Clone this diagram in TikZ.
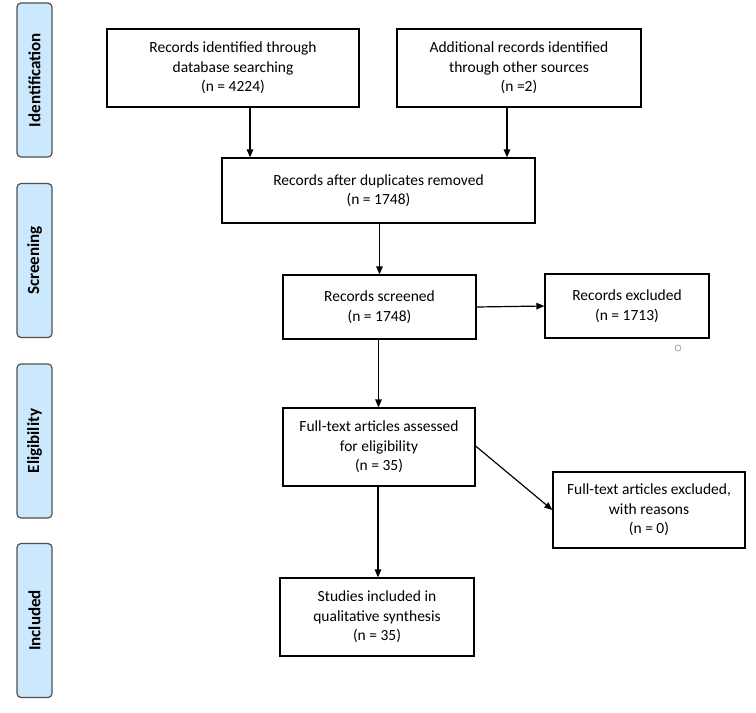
\documentclass[tikz,border=0pt]{standalone}
\usepackage{fontspec}
\setmainfont{Carlito}
\usepackage{tikz}
\usetikzlibrary{arrows.meta,positioning}

\definecolor{phaseblue}{RGB}{204,232,252}
\definecolor{phaseline}{RGB}{80,80,80}

\tikzset{
  box/.style={draw=black,line width=1.2pt,align=center,inner sep=2pt,
    font=\fontsize{15.5}{19.5}\selectfont},
  phase/.style={draw=phaseline,fill=phaseblue,line width=1.2pt,rounded corners=4pt,
    rotate=90,minimum width=154pt,minimum height=35pt,inner sep=0pt,
    font=\fontsize{17}{19}\selectfont\bfseries},
  flow/.style={line width=1.2pt,-{Triangle[length=8pt,width=6.5pt]}}
}

\begin{document}
\begin{tikzpicture}[x=1pt,y=-1pt]
  \useasboundingbox (0,0) rectangle (756,713);
    % phases
    \node[phase] (ident) at (34.5,80) {Identification};
    \node[phase] (screen) at (34.5,260.5) {Screening};
    \node[phase] (elig) at (34.5,441) {Eligibility};
    \node[phase] (incl) at (34.5,620.5) {Included};
    % boxes
    \node[box,minimum width=252pt,minimum height=78pt] (recdb) at (233,68)
      {Records identified through\\database searching\\(n = 4224)};
    \node[box,minimum width=244pt,minimum height=78pt] (recother) at (519,68)
      {Additional records identified\\through other sources\\(n =2)};
    \node[box,minimum width=313pt,minimum height=65pt] (dedup) at (378.5,190.5)
      {Records after duplicates removed\\(n = 1748)};
    \node[box,minimum width=193pt,minimum height=64pt] (screened) at (379.5,307)
      {Records screened\\(n = 1748)};
    \node[box,minimum width=164pt,minimum height=64pt] (excl) at (627,306)
      {Records excluded\\(n = 1713)};
    \node[box,minimum width=192pt,minimum height=78pt] (fulltext) at (379,447)
      {Full-text articles assessed\\for eligibility\\(n = 35)};
    \node[box,minimum width=192pt,minimum height=76pt] (ftexcl) at (649,510)
      {Full-text articles excluded,\\with reasons\\(n = 0)};
    \node[box,minimum width=194pt,minimum height=78pt] (studies) at (377,617)
      {Studies included in\\qualitative synthesis\\(n = 35)};
    \node[draw=gray!70,circle,inner sep=0pt,minimum size=6pt,line width=0.8pt] (dot) at (678,348) {};
	\draw[flow] ([xshift=17pt]recdb.south) to ([xshift=17pt]recdb.south |- dedup.north);
	\draw[flow] ([xshift=-12pt]recother.south) to ([xshift=-12pt]recother.south |- dedup.north);
	\draw[flow] (dedup.south -| screened.north) to (screened.north);
	\draw[flow] (screened.east) to (excl.west);
	\draw[flow] ([xshift=-1pt]screened.south) to ([xshift=-1pt]screened.south |- fulltext.north);
	\draw[flow] ([yshift=1pt]fulltext.east) to (ftexcl.west);
	\draw[flow] ([xshift=-1pt]fulltext.south) to ([xshift=-1pt]fulltext.south |- studies.north);
\end{tikzpicture}
\end{document}
